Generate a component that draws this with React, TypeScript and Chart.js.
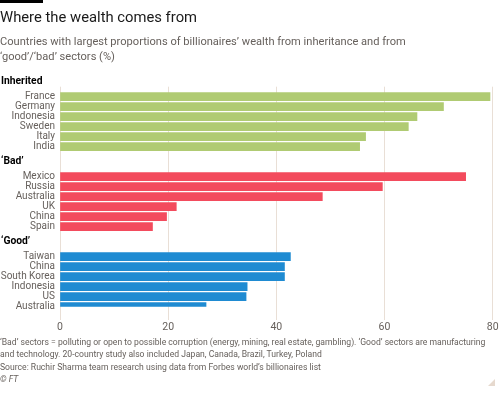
import React, { useEffect, useRef } from 'react';
import { Chart, registerables } from 'chart.js';

Chart.register(...registerables);

const inheritedCountries = ['France', 'Germany', 'Indonesia', 'Sweden', 'Italy', 'India'];
const inheritedValues = [79.5, 70.9, 66.0, 64.4, 56.5, 55.4];
const badCountries = ['Mexico', 'Russia', 'Australia', 'UK', 'China', 'Spain'];
const badValues = [75.0, 59.6, 48.5, 21.5, 19.7, 17.1];
const goodCountries = ['Taiwan', 'China', 'South Korea', 'Indonesia', 'US', 'Australia'];
const goodValues = [42.6, 41.5, 41.5, 34.6, 34.4, 27.0];
const groupTitles = ['Inherited', '\u2018Bad\u2019', '\u2018Good\u2019'];
const groupColors = ['#b0cb73', '#f34b5d', '#1f8bd2'];
const xMin = 0;
const xMax = 80;
const xStep = 20;

const FONT = 'Roboto, "Open Sans", sans-serif';
const GREY = '#66605c';

const groups = [
  { title: groupTitles[0], countries: inheritedCountries, values: inheritedValues, color: groupColors[0] },
  { title: groupTitles[1], countries: badCountries, values: badValues, color: groupColors[1] },
  { title: groupTitles[2], countries: goodCountries, values: goodValues, color: groupColors[2] },
];

const labels: string[] = [''];
const headerRows: { title: string; index: number }[] = [];
const groupStarts: number[] = [];
groups.forEach((g, gi) => {
  if (gi > 0) labels.push('', '');
  headerRows.push({ title: g.title, index: labels.length });
  groupStarts.push(labels.length);
  g.countries.forEach((c) => labels.push(c));
});

const datasets = groups.map((g, gi) => {
  const data: (number | null)[] = labels.map(() => null);
  g.values.forEach((v, i) => {
    data[groupStarts[gi] + i] = v;
  });
  return {
    label: g.title,
    data,
    backgroundColor: g.color,
    borderWidth: 0,
    barThickness: 8,
    grouped: false,
  };
});

const headerPlugin = {
  id: 'groupHeaders',
  afterDraw(chart: any) {
    const y = chart.scales.y;
    const ctx = chart.ctx;
    ctx.save();
    ctx.font = `bold 10.3px ${FONT}`;
    ctx.fillStyle = '#000';
    ctx.textAlign = 'left';
    ctx.textBaseline = 'middle';
    headerRows.forEach((h) => {
      ctx.fillText(h.title, 1, y.getPixelForValue(h.index - 1.5));
    });
    ctx.restore();
  },
};

export default function App() {
  const ref = useRef<HTMLCanvasElement | null>(null);

  useEffect(() => {
    document.body.style.margin = '0';
    const canvas = ref.current;
    if (!canvas) return;
    const chart = new Chart(canvas, {
      type: 'bar',
      data: { labels, datasets: datasets as any },
      plugins: [headerPlugin],
      options: {
        indexAxis: 'y',
        animation: false,
        responsive: false,
        devicePixelRatio: 1,
        layout: { padding: { left: 0, right: 7.3, top: 86.7, bottom: 56.3 } },
        plugins: { legend: { display: false }, tooltip: { enabled: false } },
        scales: {
          x: {
            type: 'linear',
            position: 'bottom',
            min: xMin,
            max: xMax,
            ticks: { stepSize: xStep, color: GREY, font: { family: FONT, size: 10.5 }, padding: 1 },
            grid: { color: '#e9dfd6', tickLength: 13.3, lineWidth: 1 },
            border: { display: false },
            afterFit: (s: any) => {
              s.height = 30;
            },
          },
          y: {
            type: 'category',
            offset: false,
            grid: { display: false, drawTicks: false },
            border: { display: false },
            ticks: { color: GREY, font: { family: FONT, size: 10 }, padding: 5, autoSkip: false },
            afterFit: (s: any) => {
              s.width = 60;
            },
          },
        },
      },
    });
    return () => chart.destroy();
  }, []);

  const abs = (o: any) => ({ position: 'absolute', margin: 0, ...o } as React.CSSProperties);

  return (
    <div style={abs({ left: 0, top: 0, width: 500, height: 393, fontFamily: FONT, overflow: 'hidden' })}>
      <canvas ref={ref} width={500} height={393} style={abs({ left: 0, top: 0, width: 500, height: 393 })} />
      <div style={abs({ left: 0, top: 0, width: 43, height: 3, background: '#000' })} />
      <div style={abs({ left: 0, top: 8, fontSize: 14.8, lineHeight: '18px', color: '#1a1a1a', whiteSpace: 'nowrap' })}>
        Where the wealth comes from
      </div>
      <div style={abs({ left: 0, top: 34, width: 490, fontSize: 11.1, lineHeight: '15px', color: GREY, whiteSpace: 'nowrap' })}>
        Countries with largest proportions of billionaires{'\u2019'} wealth from inheritance and from
        <br />
        {'\u2018'}good{'\u2019'}/{'\u2018'}bad{'\u2019'} sectors (%)
      </div>
      <div style={abs({ left: 0, top: 336, width: 500, fontSize: 8.6, lineHeight: '12.3px', color: GREY, whiteSpace: 'nowrap' })}>
        {'\u2018'}Bad{'\u2019'} sectors = polluting or open to possible corruption (energy, mining, real estate, gambling). {'\u2018'}Good{'\u2019'} sectors are manufacturing
        <br />
        and technology. 20-country study also included Japan, Canada, Brazil, Turkey, Poland
        <br />
        Source: Ruchir Sharma team research using data from Forbes world{'\u2019'}s billionaires list
        <br />
        <i>{'\u00a9'} FT</i>
      </div>
      <div
        style={abs({
          left: 488,
          top: 379,
          width: 0,
          height: 0,
          borderLeft: '7px solid transparent',
          borderBottom: '7px solid #e6d9ce',
        })}
      />
    </div>
  );
}
